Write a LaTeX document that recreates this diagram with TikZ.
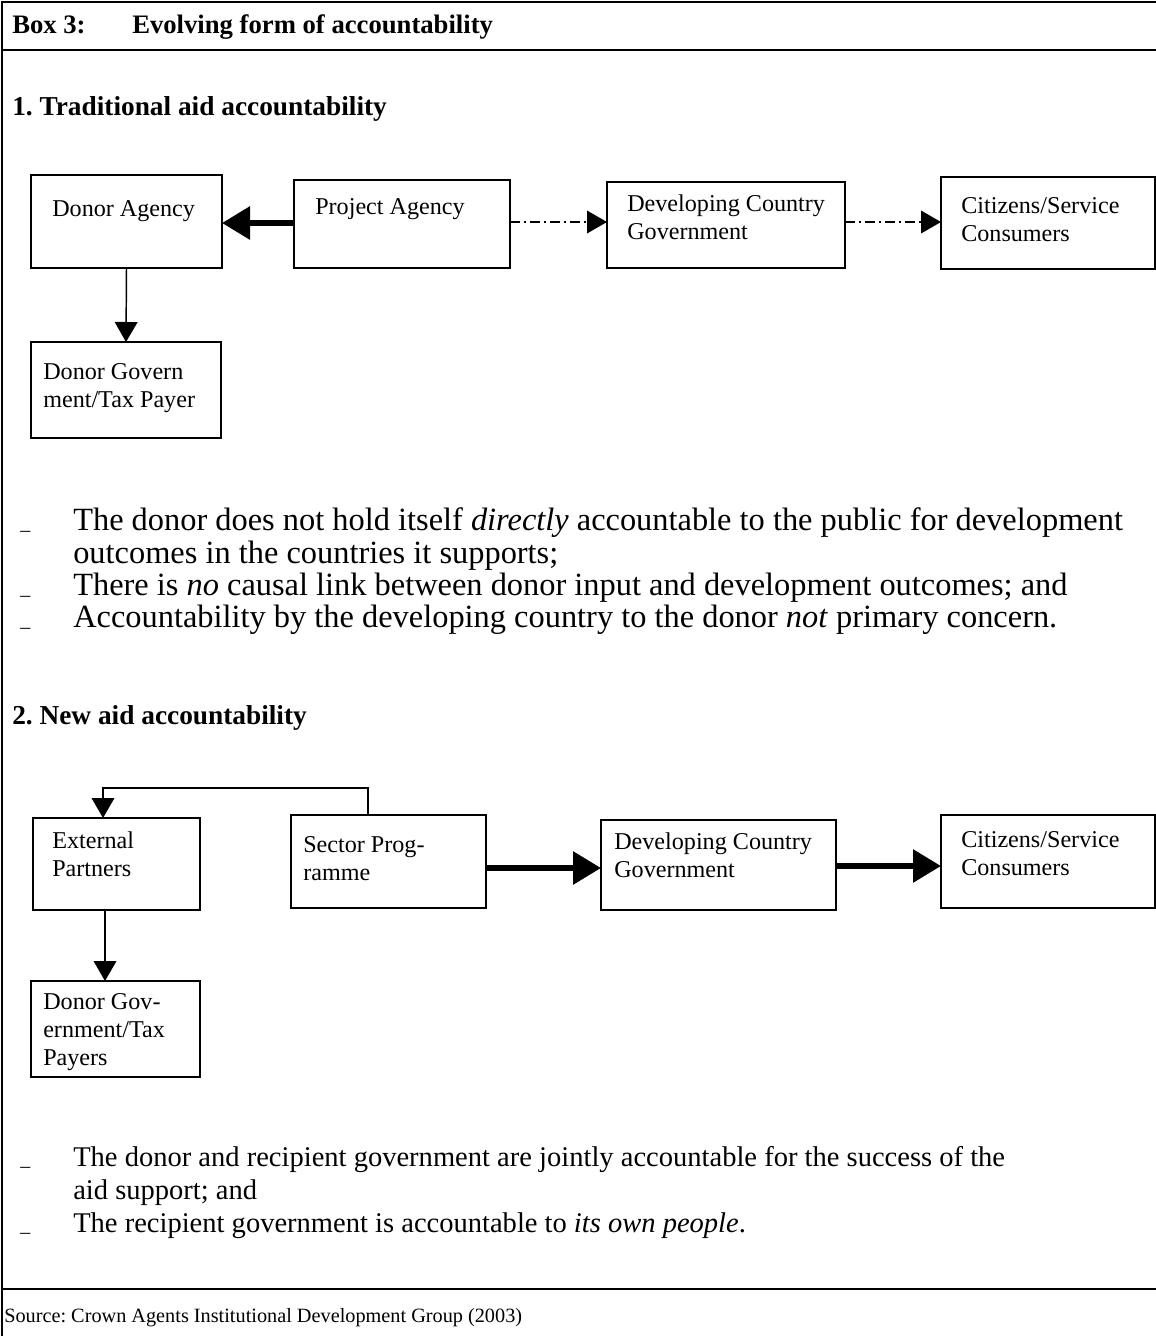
\documentclass[tikz,border=0pt]{standalone}
\usepackage{fontspec}
\setmainfont{Liberation Serif}
\usetikzlibrary{arrows.meta,calc,fit}
\begin{document}
\begin{tikzpicture}[x=0.75pt,y=-0.75pt,
  frameline/.style={line width=2.2pt},
  box/.style={draw, line width=1.1pt, inner sep=0pt, outer sep=0pt, rectangle},
  boxtext/.style={anchor=base west, inner sep=0pt, align=left, font=\fontsize{18.1}{21}\selectfont\frenchspacing},
  hdr/.style={anchor=base west, inner sep=0pt, font=\fontsize{20}{22}\selectfont\bfseries\frenchspacing},
  heading/.style={anchor=base west, inner sep=0pt, font=\fontsize{20.5}{24}\selectfont\bfseries\frenchspacing},
  bullettext/.style={anchor=base west, inner sep=0pt, font=\fontsize{24.3}{26}\selectfont\frenchspacing},
  bullettextb/.style={anchor=base west, inner sep=0pt, font=\fontsize{21.4}{24}\selectfont\frenchspacing},
  bulletmark/.style={anchor=base west, inner sep=0pt, font=\fontsize{15}{16}\selectfont},
  srctext/.style={anchor=base west, inner sep=0pt, font=\fontsize{15.2}{17}\selectfont\frenchspacing},
  thickarrow/.style={line width=4.5pt, -{Triangle[length=21pt,width=24pt]}},
  thinarrow/.style={line width=1.1pt, -{Triangle[length=15pt,width=17pt]}},
  dasharrow/.style={line width=1.1pt, dash pattern=on 7.5pt off 3pt on 1.5pt off 3pt, -{Triangle[length=15pt,width=17pt]}}
]
\useasboundingbox (0,0) rectangle (1156,1336);

% frame
\draw[frameline] (1156,2) -- (2,2) -- (2,1336);
\draw[frameline] (2,50) -- (1156,50);
\draw[frameline] (2,1289) -- (1156,1289);

% header
\node[hdr] (boxno) at (12,33) {Box 3:};
\node[hdr] (boxtitle) at (132,33) {Evolving form of accountability};

% section 1
\node[heading] (h1) at (12,115) {1. Traditional aid accountability};

\node[box, fit={(31,175) (222,268)}] (da) {};
\node[boxtext] (dat) at (52,216) {Donor Agency};
\node[box, fit={(294,180) (510,268)}] (pa) {};
\node[boxtext] (pat) at (315,214) {Project Agency};
\node[box, fit={(607,182) (845,268)}] (dcg) {};
\node[boxtext] (dcgt) at (627,239) {Developing Country\\Government};
\node[box, fit={(941,177) (1155,269)}] (cit) {};
\node[boxtext] (citt) at (961,241) {Citizens/Service\\Consumers};
\node[box, fit={(31,342) (221,438)}] (dg) {};
\node[boxtext] (dgt) at (43,407) {Donor Govern\\ment/Tax Payer};

\draw[thickarrow] (pa.west |- 0,223) -- (da.east |- 0,223);
\draw[dasharrow] (pa.east |- 0,222) -- (dcg.west |- 0,222);
\draw[dasharrow] (dcg.east |- 0,222) -- (cit.west |- 0,222);
\draw[thinarrow] (da.south) -- (dg.north);

% bullets 1
\node[bulletmark] (m1) at (20,536) {–};
\node[bullettext] (b1a) at (73,530) {The donor does not hold itself \textit{directly} accountable to the public for development};
\node[bullettext] (b1b) at (73,563) {outcomes in the countries it supports;};
\node[bulletmark] (m2) at (20,601) {–};
\node[bullettext] (b1c) at (73,595) {There is \textit{no} causal link between donor input and development outcomes; and};
\node[bulletmark] (m3) at (20,633) {–};
\node[bullettext] (b1d) at (73,627) {Accountability by the developing country to the donor \textit{not} primary concern.};

% section 2
\node[heading] (h2) at (12,724) {2. New aid accountability};

\node[box, fit={(33,818) (200,910)}] (ep) {};
\node[boxtext] (ept) at (52,876) {External\\Partners};
\node[box, fit={(291,815) (486,908)}] (sp) {};
\node[boxtext] (spt) at (303,880) {Sector Prog-\\ramme};
\node[box, fit={(601,820) (836,910)}] (dcg2) {};
\node[boxtext] (dcg2t) at (614,877) {Developing Country\\Government};
\node[box, fit={(941,815) (1155,908)}] (cit2) {};
\node[boxtext] (cit2t) at (961,875) {Citizens/Service\\Consumers};
\node[box, fit={(31,981) (200,1077)}] (dg2) {};
\node[boxtext] (dg2t) at (43,1065) {Donor Gov-\\ernment/Tax\\Payers};

\coordinate (spup) at ($(sp.north west)+(77,0)$);
\coordinate (epdown) at ($(ep.north west)+(70,0)$);
\coordinate (eplow) at ($(ep.south west)+(72,0)$);
\draw[thinarrow] (spup) -- ++(0,-27) -| (epdown);
\draw[thinarrow] (eplow) -- (eplow |- dg2.north);
\draw[thickarrow] (sp.east |- 0,868) -- (dcg2.west |- 0,868);
\draw[thickarrow] (dcg2.east |- 0,866) -- (cit2.west |- 0,866);

% bullets 2
\node[bulletmark] (m4) at (20,1172) {–};
\node[bullettextb] (b2a) at (73,1166) {The donor and recipient government are jointly accountable for the success of the};
\node[bullettextb] (b2b) at (73,1199) {aid support; and};
\node[bulletmark] (m5) at (20,1238) {–};
\node[bullettextb] (b2c) at (73,1232) {The recipient government is accountable to \textit{its own people}.};

% source
\node[srctext] (src) at (4,1322) {Source: Crown Agents Institutional Development Group (2003)};
\end{tikzpicture}
\end{document}
